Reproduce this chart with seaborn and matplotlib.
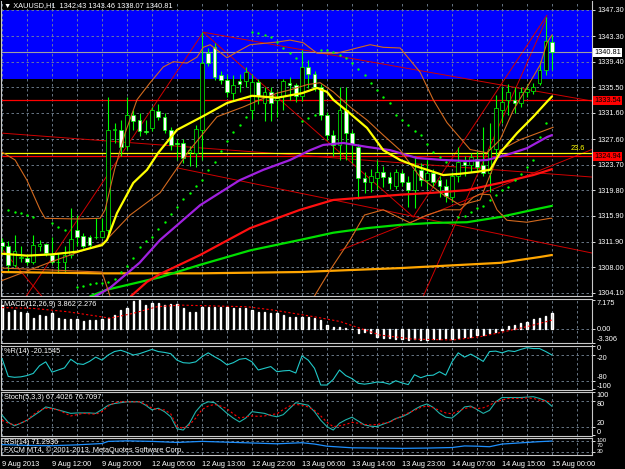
import numpy as np
import pandas as pd
import matplotlib
matplotlib.use("Agg")
import matplotlib.pyplot as plt
import seaborn as sns

# XAUUSD H1 candles, 9 Aug 2013 .. 15 Aug 00:00
opens = [1311.9, 1311.2, 1308.3, 1309.5, 1309.4, 1308.9, 1311.2, 1311.6, 1309.9, 1308.9,
         1308.8, 1309.9, 1313.7, 1312.8, 1312.7, 1312.7, 1312.7, 1313.7, 1329.0, 1329.0,
         1326.5, 1331.2, 1330.5, 1328.9, 1329.3, 1331.9, 1331.0, 1329.0, 1327.0, 1327.0,
         1325.6, 1325.5, 1329.0, 1340.7, 1341.7, 1337.4, 1336.6, 1334.7, 1336.5, 1336.4,
         1332.0, 1336.3, 1333.05, 1334.8, 1333.5, 1334.1, 1336.1, 1335.85, 1334.1, 1338.6,
         1337.6, 1335.6, 1331.3, 1328.2, 1326.7, 1332.0, 1328.5, 1326.4, 1321.7, 1321.0,
         1321.6, 1322.6, 1321.8, 1320.5, 1322.4, 1321.1, 1319.8, 1322.9, 1321.3, 1322.4,
         1321.3, 1320.5, 1318.8, 1321.9, 1324.1, 1323.7, 1324.6, 1323.6, 1322.4, 1326.1,
         1332.0, 1333.6, 1333.6, 1333.05, 1334.8, 1334.9, 1336.1, 1338.1, 1342.43]
highs = [1312.5, 1312.0, 1313.0, 1311.2, 1310.0, 1313.0, 1312.2, 1311.8, 1312.7, 1310.2,
         1311.2, 1317.0, 1316.0, 1313.2, 1313.0, 1315.5, 1315.5, 1334.0, 1330.0, 1330.5,
         1334.0, 1332.0, 1331.5, 1330.5, 1332.5, 1333.0, 1331.5, 1329.5, 1327.6, 1327.6,
         1326.6, 1329.8, 1344.0, 1341.5, 1342.3, 1338.0, 1337.5, 1337.4, 1337.6, 1338.6,
         1337.6, 1336.8, 1335.6, 1335.6, 1335.0, 1336.8, 1337.0, 1336.1, 1341.2, 1339.7,
         1338.0, 1336.0, 1331.8, 1329.0, 1335.6, 1335.6, 1329.0, 1326.8, 1322.6, 1323.0,
         1324.4, 1323.5, 1322.5, 1323.0, 1322.8, 1322.0, 1325.0, 1324.0, 1324.5, 1323.0,
         1322.0, 1321.5, 1322.5, 1326.4, 1325.0, 1325.5, 1325.8, 1329.5, 1330.0, 1334.3,
         1335.5, 1336.0, 1335.5, 1335.5, 1336.0, 1336.1, 1339.5, 1346.3, 1343.46]
lows = [1310.5, 1307.5, 1308.0, 1308.8, 1308.3, 1308.5, 1310.5, 1309.8, 1308.5, 1307.1,
        1307.1, 1309.5, 1311.2, 1311.0, 1311.0, 1312.4, 1312.5, 1313.3, 1327.0, 1325.0,
        1326.0, 1329.0, 1328.0, 1328.3, 1328.8, 1330.5, 1328.5, 1326.0, 1324.4, 1324.0,
        1323.5, 1323.3, 1324.4, 1338.8, 1336.6, 1336.0, 1334.0, 1333.5, 1334.8, 1335.6,
        1330.6, 1333.0, 1330.3, 1330.3, 1331.0, 1332.0, 1333.5, 1333.3, 1333.4, 1335.4,
        1335.0, 1330.5, 1327.5, 1325.0, 1324.4, 1324.4, 1324.0, 1318.5, 1319.3, 1319.5,
        1320.0, 1320.3, 1320.0, 1320.0, 1320.5, 1317.3, 1317.0, 1320.5, 1320.0, 1320.5,
        1318.8, 1318.0, 1318.0, 1321.0, 1322.0, 1322.5, 1322.5, 1322.0, 1319.5, 1325.0,
        1330.0, 1331.3, 1331.5, 1332.5, 1334.0, 1334.5, 1335.8, 1337.4, 1338.07]
closes = [1311.2, 1308.3, 1310.5, 1309.6, 1308.9, 1311.4, 1311.6, 1310.2, 1308.8, 1308.8,
          1309.9, 1312.3, 1312.6, 1311.3, 1311.4, 1312.6, 1313.6, 1329.0, 1329.2, 1326.4,
          1331.2, 1330.4, 1328.8, 1328.6, 1332.0, 1331.0, 1329.0, 1326.7, 1326.8, 1324.7,
          1325.9, 1329.2, 1339.2, 1339.2, 1337.1, 1336.6, 1334.8, 1335.9, 1336.0, 1337.9,
          1336.3, 1334.1, 1334.8, 1333.05, 1333.8, 1336.4, 1335.9, 1334.1, 1338.6, 1337.6,
          1335.6, 1331.3, 1328.2, 1326.7, 1332.0, 1328.5, 1326.9, 1321.6, 1321.0, 1321.9,
          1322.6, 1321.8, 1320.9, 1322.5, 1321.1, 1319.8, 1322.9, 1321.3, 1322.4, 1321.1,
          1320.5, 1318.9, 1321.9, 1324.1, 1323.7, 1324.9, 1323.4, 1322.4, 1326.1, 1332.3,
          1333.3, 1334.8, 1333.05, 1334.8, 1335.2, 1335.5, 1338.1, 1342.5, 1340.81]

# indicator lines on the price chart (bar position, price)
yellow_x = [0, 4, 8, 12, 16, 16.8, 18.4, 21, 23.2, 25, 28, 32, 36, 40, 44, 48, 50.4, 52, 53,
            55.7, 58.4, 61, 63.7, 66.4, 69, 70.6, 73.3, 76, 78.1, 79.7, 82.4, 85, 87.2, 88]
yellow_y = [1310.1, 1309.8, 1310.0, 1310.4, 1311.4, 1312.2, 1316.3, 1320.9, 1322.9, 1325.5,
            1329.0, 1331.0, 1333.1, 1334.2, 1333.9, 1334.6, 1335.4, 1334.8, 1333.6, 1331.5,
            1329.3, 1325.9, 1324.4, 1323.4, 1322.6, 1322.1, 1322.3, 1322.6, 1322.9, 1325.5,
            1328.5, 1331.0, 1333.3, 1334.1]
bb_up_x = [0, 2.1, 4, 6.1, 6.9, 12, 15.7, 16.5, 18, 19.7, 21.6, 23.7, 25.8, 27.4, 29.6, 31.2,
           32.2, 33.3, 34.4, 36, 37.6, 39.7, 44, 46.1, 48.2, 50.4, 53.6, 56.8, 58.9, 61, 63.7,
           66.9, 69, 71.2, 74, 74.9, 77.6, 79.7, 81.8, 84, 86.1, 87.2, 88]
bb_up_y = [1325.6, 1324.4, 1321.3, 1316.8, 1315.5, 1315.4, 1315.5, 1316.8, 1322.9, 1328.5,
           1333.6, 1336.2, 1338.6, 1339.4, 1339.2, 1340.1, 1341.6, 1342.0, 1341.2, 1340.0,
           1340.9, 1342.0, 1342.4, 1342.7, 1342.3, 1340.7, 1340.7, 1341.5, 1342.0, 1341.6,
           1341.5, 1337.8, 1333.6, 1330.1, 1327.0, 1326.0, 1325.5, 1327.5, 1332.0, 1335.5,
           1338.9, 1342.3, 1343.5]
bb_mid_x = [0, 7.7, 16.2, 20.5, 25.3, 30, 34.4, 38.6, 41.3, 44, 46.1, 48.8, 50.9, 53, 55.7,
            58.4, 61, 63.7, 66.9, 70.6, 73.3, 76.5, 79.7, 82.9, 88.2]
bb_mid_y = [1306.0, 1308.8, 1311.7, 1316.0, 1319.4, 1325.9, 1331.0, 1332.5, 1333.6, 1334.6,
            1335.1, 1335.9, 1336.2, 1334.8, 1332.5, 1330.5, 1328.2, 1325.9, 1321.8, 1319.1,
            1317.5, 1318.3, 1325.9, 1327.5, 1329.4]
bb_lo_x = [0, 8, 16, 17.5, 20, 47.7, 52.5, 55.7, 58, 61, 65.3, 68, 70.6, 73.3, 75.4, 76.5,
           78.1, 79.2, 80.8, 84, 87.7, 88]
bb_lo_y = [1307.9, 1307.6, 1307.3, 1303.0, 1297.0, 1300.0, 1307.6, 1312.2, 1316.0, 1316.8,
           1314.8, 1316.0, 1316.8, 1316.8, 1318.7, 1319.2, 1319.1, 1316.8, 1315.2, 1314.9,
           1315.5, 1315.5]
purple_x = [12, 17.3, 22, 25.3, 31.7, 38, 41.8, 46.1, 49.3, 51.4, 54.6, 58.4, 62.1, 66.4,
            70.6, 74.4, 77.6, 80.8, 84, 87.2, 88]
purple_y = [1302.0, 1304.9, 1308.7, 1312.2, 1317.5, 1321.3, 1322.9, 1324.4, 1325.9, 1326.7,
            1327.0, 1326.4, 1325.9, 1324.7, 1324.4, 1324.25, 1324.4, 1325.2, 1326.2, 1327.9,
            1328.2]
red_ma_x = [20.5, 23.2, 25.3, 31.7, 39.7, 47.7, 53, 58.4, 63.7, 69, 74.4, 79.7, 85, 88]
red_ma_y = [1303.5, 1305.8, 1307.0, 1309.9, 1314.0, 1316.8, 1318.3, 1318.7, 1319.1, 1319.4,
            1319.8, 1320.9, 1322.1, 1323.0]
green_ma_x = [14.1, 16.8, 25.3, 31.7, 39.7, 47.7, 53, 58.4, 63.7, 69, 74.4, 79.7, 85, 88]
green_ma_y = [1303.6, 1304.6, 1306.5, 1308.4, 1310.6, 1312.2, 1313.3, 1314.0, 1314.5, 1314.8,
              1314.9, 1315.7, 1316.8, 1317.4]
orange_ma_x = [0, 15.7, 31.7, 47.7, 63.7, 79.7, 86.1, 88]
orange_ma_y = [1307.3, 1307.1, 1307.1, 1307.3, 1307.9, 1308.7, 1309.6, 1309.9]

sar_x = [1, 2, 3, 4, 5, 8, 9, 10,
         12, 13, 14, 15, 16, 17, 18, 19, 20, 21, 22, 23, 24, 25, 26, 27, 28, 29, 30, 31, 32, 33,
         34, 35, 36, 37, 38, 39,
         40, 41, 42, 43, 44, 45, 46, 47, 48, 49, 50,
         51, 52, 53, 54, 55, 56, 57, 58, 59, 60, 61, 62, 63, 64, 65, 66, 67, 68, 69, 70, 71,
         73, 74, 75, 76, 77, 78, 79, 80, 81, 82, 83, 84, 85, 86, 87]
sar_y = [1316.8, 1316.5, 1316.3, 1316.0, 1315.7, 1314.8, 1314.2, 1313.7,
         1305.0, 1305.2, 1305.4, 1305.6, 1305.7, 1305.8, 1306.3, 1307.3, 1308.2, 1309.5, 1311.1,
         1312.0, 1312.6, 1313.8, 1315.0, 1316.2, 1317.3, 1318.4, 1319.4, 1320.4, 1321.3, 1322.8,
         1324.1, 1325.8, 1327.3, 1328.7, 1329.7, 1331.0,
         1343.9, 1343.8, 1343.5, 1343.2, 1342.4, 1341.5, 1340.7, 1340.0, 1330.3, 1330.8, 1331.3,
         1341.2, 1341.2, 1340.9, 1340.4, 1340.0, 1339.2, 1338.3, 1337.3, 1336.2, 1335.1, 1334.0,
         1333.1, 1331.3, 1330.5, 1329.7, 1328.9, 1328.2, 1326.8, 1325.6, 1324.8, 1324.1,
         1315.7, 1315.9, 1316.5, 1317.0, 1317.4, 1318.3, 1319.1, 1319.8, 1320.3, 1321.3, 1322.3,
         1323.3, 1324.4, 1327.9, 1330.0]

# hand-drawn trend lines (bar, price) pairs
trend_x = [[32.2, 94.4], [0, 94.4], [32.2, 65.8], [65.8, 87.2], [0, 32.2], [0, 9.3],
           [28, 94.4], [54.1, 94.4], [67.4, 87.2]]
trend_y = [[1343.9, 1333.4], [1328.5, 1321.8], [1343.9, 1315.7], [1315.7, 1346.5],
           [1298.1, 1343.9], [1310.8, 1300.3], [1323.2, 1310.2], [1310.6, 1326.0],
           [1303.6, 1346.1]]
red_levels = [1333.54, 1324.94]
fib_level = 1325.5
bid = 1340.81
zone_lo, zone_hi = 1336.8, 1347.3

price_ticks = [1347.30, 1343.30, 1339.40, 1335.50, 1331.60, 1327.60, 1323.70, 1319.80,
               1315.90, 1311.90, 1308.00, 1304.10]
date_labels = ["9 Aug 2013", "9 Aug 12:00", "9 Aug 20:00", "12 Aug 05:00", "12 Aug 13:00",
               "12 Aug 22:00", "13 Aug 06:00", "13 Aug 14:00", "13 Aug 23:00",
               "14 Aug 07:00", "14 Aug 15:00", "15 Aug 00:00"]

# sub windows
macd = [5.9, 4.3, 4.7, 4.3, 3.9, 2.7, 3.5, 3.3, 3.9, 2.7, 2.4, 2.4, 2.4, 2.1, 2.3, 2.3, 2.4,
        2.7, 3.5, 4.7, 5.1, 6.9, 7.1, 5.9, 6.3, 6.3, 5.9, 6.2, 6.2, 5.1, 4.3, 4.3, 5.5, 5.5,
        5.5, 5.5, 5.5, 5.1, 5.1, 5.1, 4.7, 4.3, 4.3, 3.9, 3.9, 3.5, 3.1, 3.1, 3.1, 3.1, 2.7,
        2.3, 1.1, 0.65, 0.5, 0.25, 0.05, -0.8, -0.6, -1.0, -1.8, -2.2, -2.2, -2.4, -2.4, -2.6,
        -2.4, -2.6, -2.6, -2.4, -2.4, -2.2, -2.4, -2.2, -1.8, -1.8, -1.4, -1.4, -0.8, -0.6,
        -0.2, 0.8, 1.1, 1.6, 1.9, 2.4, 2.7, 3.3, 3.862]
macd_sig_x = [0, 5, 10.4, 15.7, 17.3, 21, 24.8, 28.5, 39.2, 43.4, 49.8, 54.1, 57.3, 60.5,
              65.8, 72.2, 76.5, 79.7, 84, 87.2, 88]
macd_sig_y = [5.3, 5.1, 4.3, 3.1, 2.7, 3.9, 5.5, 5.9, 5.5, 4.7, 3.1, 1.9, 0.25, -1.4, -2.4,
              -2.6, -1.8, -0.8, 0.65, 1.9, 2.276]
wpr = [-28, -70, -72, -71, -68, -63, -45, -36, -60, -55, -50, -30, -40, -42, -35, -25, -32,
       -20, -12, -9, -14, -20, -17, -12, -7, -12, -14, -17, -32, -38, -39, -36, -24, -15, -24,
       -32, -43, -38, -30, -28, -36, -55, -51, -47, -59, -57, -56, -62, -22, -32, -51, -90,
       -90, -77, -55, -68, -75, -86, -88, -86, -83, -84, -88, -80, -85, -89, -66, -73, -68,
       -67, -59, -67, -36, -15, -25, -18, -26, -35, -12, -11, -15, -10, -12, -7, -3, -5, -5,
       -12, -20.15]
stoch_main = [47, 30, 22, 28, 35, 45, 55, 66, 63, 59, 55, 51, 52, 52, 52, 51, 60, 70, 74, 76,
              78, 78, 78, 70, 59, 63, 55, 43, 15, 12, 28, 55, 72, 78, 76, 64, 51, 40, 31, 40,
              55, 53, 51, 46, 43, 48, 62, 76, 73, 70, 55, 35, 20, 12, 28, 36, 42, 33, 24, 21,
              20, 26, 31, 39, 43, 50, 60, 68, 73, 65, 51, 42, 40, 52, 66, 68, 60, 51, 58, 78,
              88, 88, 88, 88, 89, 90, 86, 80, 67.4]
stoch_sig = [35, 28, 24, 28, 35, 48, 58, 63, 62, 59, 52, 45, 48, 51, 50, 49, 55, 68, 76, 78,
             78, 78, 78, 72, 63, 60, 59, 50, 20, 16, 24, 40, 60, 68, 72, 68, 62, 50, 40, 43,
             45, 44, 45, 48, 50, 60, 68, 72, 70, 66, 58, 45, 30, 20, 22, 25, 30, 28, 25, 24,
             25, 28, 30, 38, 45, 52, 58, 65, 68, 64, 58, 52, 50, 56, 62, 66, 62, 64, 70, 78,
             82, 86, 86, 86, 87, 86, 82, 80, 76.7]
rsi_x = [0, 4, 8, 12, 16, 17, 20, 24, 28, 32, 36, 40, 44, 48, 50, 52, 56, 60, 64, 68, 72,
         74, 76, 78, 80, 84, 86, 88]
rsi_y = [58, 55, 54, 57, 62, 70, 72, 70, 66, 70, 67, 64, 61, 65, 60, 52, 46, 45, 44, 45, 47,
         53, 52, 50, 60, 66, 69, 71.29]

# ---------------------------------------------------------------- style
sns.set_style("dark", {"axes.facecolor": "black", "figure.facecolor": "black",
                       "axes.edgecolor": "#c8c8c8", "text.color": "white",
                       "xtick.color": "white", "ytick.color": "white",
                       "grid.color": "#778899"})
plt.rcParams["font.family"] = ["Liberation Sans Narrow", "Liberation Sans", "DejaVu Sans"]
FS = 5.3
GRID = dict(color="#778899", lw=0.6, ls=(0, (3, 3)))

W, H = 625, 469
fig = plt.figure(figsize=(W / 100, H / 100), dpi=100)
LEFT, RIGHT = 1.5, 592
XMIN, XMAX = -0.08, 94.4


def px_axes(top, bottom):
    a = fig.add_axes([LEFT / W, 1 - bottom / H, (RIGHT - LEFT) / W, (bottom - top) / H])
    a.set_facecolor("black")
    a.set_xlim(XMIN, XMAX)
    a.set_xticks(np.arange(0, 93, 4))
    a.tick_params(axis="x", length=0, labelbottom=False)
    a.grid(axis="x", **GRID)
    a.grid(axis="y", visible=False)
    for s in a.spines.values():
        s.set_color("#c8c8c8")
        s.set_linewidth(0.8)
    a.yaxis.tick_right()
    a.tick_params(axis="y", length=2.5, width=0.6, color="white", labelsize=FS, pad=1.5)
    return a


def right_labels(a, ticks, spots, texts, vas, size=FS):
    # tick marks at the level, text placed so that the small labels do not collide
    a.set_yticks(ticks)
    a.set_yticklabels([])
    for v, t, va in zip(spots, texts, vas):
        a.text(1.008, v, t, transform=a.get_yaxis_transform(), va=va, ha="left",
               fontsize=size, color="white")


def line(a, x, y, **kw):
    sns.lineplot(x=x, y=y, ax=a, sort=False, estimator=None, **kw)


# ---------------------------------------------------------------- price window
ax = px_axes(1, 296)
ax.set_ylim(1303.64, 1348.67)
ax.spines["top"].set_visible(False)
ax.set_yticks(price_ticks)
ax.set_yticklabels([f"{p:.2f}" for p in price_ticks])
ax.grid(axis="y", **GRID)
ax.axhspan(zone_lo, zone_hi, color="#0000ff", zorder=0.1, lw=0)

for tx, ty in zip(trend_x, trend_y):
    line(ax, tx, ty, color="#d00000", lw=0.7, zorder=2)
for lv in red_levels:
    ax.axhline(lv, color="red", lw=0.9, zorder=2)
ax.axhline(fib_level, color="yellow", lw=0.9, zorder=2)
ax.axhline(bid, color="#a0a0a0", lw=0.8, zorder=2)
ax.text(92.2, fib_level + 0.15, "23.6", color="yellow", fontsize=FS, va="bottom", ha="center")

cd = pd.DataFrame({"o": opens, "h": highs, "l": lows, "c": closes})
cd["bar"] = np.arange(len(cd))
bull = cd["c"] >= cd["o"]
ax.vlines(cd["bar"], cd["l"], cd["h"], color="lime", lw=0.8, zorder=3)
ax.bar(cd["bar"], (cd["c"] - cd["o"]).abs().clip(lower=0.06), bottom=cd[["o", "c"]].min(axis=1),
       width=0.6, color=np.where(bull, "black", "white"), edgecolor="lime", lw=0.5, zorder=3.5)

line(ax, orange_ma_x, orange_ma_y, color="#ffa500", lw=1.6, zorder=4)
line(ax, green_ma_x, green_ma_y, color="#00e000", lw=1.6, zorder=4)
line(ax, red_ma_x, red_ma_y, color="#ff1010", lw=1.6, zorder=4)
line(ax, purple_x, purple_y, color="#a020e0", lw=1.6, zorder=4)
for bx, by in [(bb_up_x, bb_up_y), (bb_mid_x, bb_mid_y), (bb_lo_x, bb_lo_y)]:
    line(ax, bx, by, color="#d2691e", lw=0.8, zorder=4)
line(ax, yellow_x, yellow_y, color="yellow", lw=1.6, zorder=4.5)
sns.scatterplot(x=sar_x, y=sar_y, ax=ax, s=3, color="#00ff00", linewidth=0, zorder=5)
ax.set_xlabel("")
ax.set_ylabel("")

box = dict(boxstyle="square,pad=0.15", lw=0)
ax.text(1.004, bid, f"{bid:.2f}", transform=ax.get_yaxis_transform(), va="center",
        fontsize=FS, color="black", bbox=dict(fc="white", **box), zorder=6)
for lv in red_levels:
    ax.text(1.004, lv, f"{lv:.2f}", transform=ax.get_yaxis_transform(), va="center",
            fontsize=FS, color="black", bbox=dict(fc="#ff0000", **box), zorder=6)

fig.text(4 / W, 1 - 2 / H, "\u25bc XAUUSD,H1  1342.43 1343.46 1338.07 1340.81",
         fontsize=FS, color="white", va="top",
         family=["Liberation Sans Narrow", "Liberation Sans", "DejaVu Sans"])

# ---------------------------------------------------------------- MACD
am = px_axes(299, 343)
am.set_ylim(-3.34, 7.39)
am.bar(np.arange(len(macd)), macd, width=0.2, color="#b8b8b8", zorder=3)
line(am, macd_sig_x, macd_sig_y, color="red", lw=0.8, ls=(0, (2, 2)), zorder=4)
am.axhline(0, **GRID)
right_labels(am, [7.175, 0, -3.306], [7.175, 0, -3.306], ["7.175", "0.00", "-3.306"],
             ["top", "center", "bottom"])

# ---------------------------------------------------------------- %R
aw = px_axes(345.5, 390)
aw.set_ylim(-101.6, 2.1)
for lv in (-20, -80):
    aw.axhline(lv, **GRID)
line(aw, np.arange(len(wpr)), wpr, color="#20c8c8", lw=0.8, zorder=4)
right_labels(aw, [0, -20, -80, -100], [2.1, -20, -80, -101.6], ["0", "-20", "-80", "-100"],
             ["top", "top", "bottom", "bottom"])

# ---------------------------------------------------------------- Stochastic
ast = px_axes(391.5, 436)
ast.set_ylim(-1.9, 102.1)
for lv in (20, 80):
    ast.axhline(lv, **GRID)
line(ast, np.arange(len(stoch_main)), stoch_main, color="#20b2aa", lw=0.8, zorder=4)
line(ast, np.arange(len(stoch_sig)), stoch_sig, color="red", lw=0.8, ls=(0, (2, 2)), zorder=4)
right_labels(ast, [100, 80, 20, 0], [102.1, 80, 20, -1.9], ["100", "80", "20", "0"],
             ["top", "top", "bottom", "bottom"])

# ---------------------------------------------------------------- RSI
ar = px_axes(437.5, 455)
ar.set_ylim(19.1, 84.5)
for lv in (30, 70):
    ar.axhline(lv, **GRID)
line(ar, rsi_x, rsi_y, color="#1e90ff", lw=0.9, zorder=4)
right_labels(ar, [70, 30], [84.5, 62.5, 40.0], ["100", "70", "30"], ["top", "top", "top"],
             size=4.3)

ar.set_xticks(np.arange(0, 93, 4))
ar.set_xticklabels([date_labels[i // 2] if i % 2 == 0 and i // 2 < len(date_labels) else ""
                    for i in range(len(np.arange(0, 93, 4)))], ha="left")
ar.tick_params(axis="x", length=2.5, width=0.6, color="white", labelbottom=True,
               labelsize=FS, pad=1.5)

for a in (am, aw, ast, ar):
    a.set_xlabel("")
    a.set_ylabel("")

panel_titles = [(301, "MACD(12,26,9) 3.862 2.276"), (348, "%R(14) -20.1545"),
                (394, "Stoch(5,3,3) 67.4026 76.7097"), (439, "RSI(14) 71.2936"),
                (446, "FXCM MT4, \u00a9 2001-2013, MetaQuotes Software Corp.")]
for yy, t in panel_titles:
    fig.text(4 / W, 1 - yy / H, t, fontsize=FS, color="white", va="top")

fig.savefig("out.png", dpi=100, facecolor="black")
